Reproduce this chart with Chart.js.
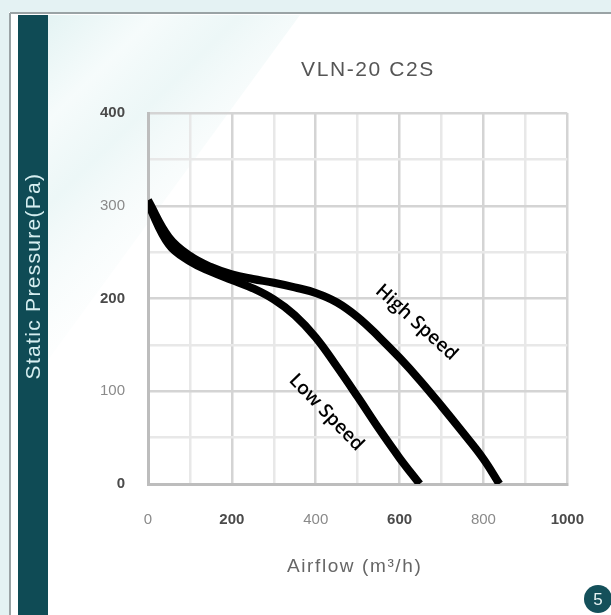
<!DOCTYPE html>
<html><head><meta charset="utf-8">
<script src="https://cdn.jsdelivr.net/npm/chart.js@4.4.0/dist/chart.umd.min.js"></script>
<style>html,body{margin:0;padding:0;background:#fff;overflow:hidden}</style>
</head><body>
<canvas id="c" width="611" height="615" style="width:611px;height:615px;display:block"></canvas>
<script>
// ---- data ----
const chartTitle = 'VLN-20 C2S';
const xAxisTitle = 'Airflow (m³/h)';
const yAxisTitle = 'Static Pressure(Pa)';
const seriesNames = ['High Speed', 'Low Speed'];
const highFlow = [0, 50, 100, 150, 200, 250, 300, 350, 400, 450, 500, 550, 600, 650, 700, 750, 800, 838];
const highPressure = [306, 266, 246, 234, 226, 221, 217, 212, 206, 196, 180, 159, 136, 111, 84, 56, 27, 0];
const lowFlow = [0, 50, 100, 150, 200, 250, 300, 350, 400, 450, 500, 550, 600, 648];
const lowPressure = [302, 258, 240, 229, 220, 211, 199, 182, 158, 127, 94, 60, 28, 0];
const xMajorTicks = [0, 200, 400, 600, 800, 1000];
const yMajorTicks = [0, 100, 200, 300, 400];
const boldXTicks = [200, 600, 1000];
const boldYTicks = [0, 200, 400];
const badgeText = '5';

const toPoints = (xs, ys) => xs.map((x, i) => ({x: x, y: ys[i]}));

const decor = {
  id: 'decor',
  beforeDraw(chart) {
    const c = chart.ctx;
    c.save();
    c.fillStyle = '#ffffff';
    c.fillRect(0, 0, 611, 615);
    const g = c.createLinearGradient(48, 15, 260, 230);
    g.addColorStop(0, 'rgba(225,242,242,0.9)');
    g.addColorStop(0.25, 'rgba(245,251,251,0.9)');
    g.addColorStop(0.45, 'rgba(232,245,245,0.8)');
    g.addColorStop(1, 'rgba(255,255,255,0)');
    c.fillStyle = g;
    c.beginPath(); c.moveTo(48, 15); c.lineTo(300, 15); c.lineTo(48, 360); c.closePath(); c.fill();
    c.fillStyle = '#e4f2f3';
    c.fillRect(0, 0, 611, 12);
    c.fillRect(0, 0, 9, 615);
    c.strokeStyle = '#9aa3a5'; c.lineWidth = 2;
    c.beginPath(); c.moveTo(10, 13); c.lineTo(611, 13); c.moveTo(10, 13); c.lineTo(10, 615); c.stroke();
    c.fillStyle = '#0f4b55';
    c.fillRect(18, 15, 30, 600);
    // y-title in bar
    c.translate(34, 276);
    c.rotate(-Math.PI / 2);
    c.fillStyle = '#d6eef0';
    c.font = '21px "Liberation Sans", Arial, sans-serif';
    c.letterSpacing = '1.3px';
    c.textAlign = 'center'; c.textBaseline = 'middle';
    c.fillText(yAxisTitle, 0, 0);
    c.restore();
    c.save();
    c.fillStyle = '#555';
    c.font = '21px "Liberation Sans", Arial, sans-serif';
    c.letterSpacing = '1.6px';
    c.textAlign = 'center'; c.textBaseline = 'middle';
    c.fillText(chartTitle, 368, 70);
    // x-axis title
    const ca = chart.chartArea;
    c.fillStyle = '#666';
    c.font = '19px "Liberation Sans", Arial, sans-serif';
    c.letterSpacing = '1.6px';
    c.fillText(xAxisTitle, (ca.left + ca.right) / 2 - 3, 567);
    // badge
    c.fillStyle = '#14505a';
    c.beginPath(); c.arc(598, 599, 14, 0, Math.PI * 2); c.fill();
    c.fillStyle = '#e8f4f4';
    c.font = '17px "Liberation Sans", Arial, sans-serif';
    c.letterSpacing = '0px';
    c.fillText(badgeText, 598, 600);
    c.restore();
  },
  afterDatasetsDraw(chart) {
    const c = chart.ctx, xs = chart.scales.x, ys = chart.scales.y;
    const labels = [
      {text: seriesNames[0], vx: 640, vy: 174, rot: 42},
      {text: seriesNames[1], vx: 425, vy: 77, rot: 46}
    ];
    c.save();
    c.fillStyle = '#000';
    c.font = '600 19px "Open Sans", "Noto Sans", sans-serif';
    c.textAlign = 'center'; c.textBaseline = 'middle';
    labels.forEach(l => {
      c.save();
      c.translate(xs.getPixelForValue(l.vx), ys.getPixelForValue(l.vy));
      c.rotate(l.rot * Math.PI / 180);
      c.fillText(l.text, 0, 0);
      c.restore();
    });
    c.restore();
  }
};

const tickFont = (bold) => bold
  ? {family: '"Liberation Sans", Arial, sans-serif', size: 15, weight: 'bold'}
  : {family: '"Liberation Sans", Arial, sans-serif', size: 15, weight: 'normal'};

new Chart(document.getElementById('c'), {
  type: 'line',
  data: {
    datasets: [
      {label: seriesNames[0], data: toPoints(highFlow, highPressure)},
      {label: seriesNames[1], data: toPoints(lowFlow, lowPressure)}
    ]
  },
  options: {
    responsive: false,
    animation: false,
    devicePixelRatio: 1,
    layout: {padding: {left: 0, top: 113, right: 43, bottom: 0}},
    elements: {
      line: {borderColor: '#000', borderWidth: 8, tension: 0.4, fill: false, borderCapStyle: 'butt', borderJoinStyle: 'round'},
      point: {radius: 0, hoverRadius: 0}
    },
    datasets: {line: {clip: 0}},
    plugins: {legend: {display: false}, title: {display: false}, tooltip: {enabled: false}},
    scales: {
      x: {
        type: 'linear', min: 0, max: 1000,
        afterFit: s => { s.height = 131; },
        border: {display: true, color: '#bdbdbd', width: 3},
        grid: {
          drawTicks: false,
          color: ctx => (ctx.tick && xMajorTicks.includes(ctx.tick.value)) ? '#d4d4d4' : '#e8e8e8',
          lineWidth: 2.5
        },
        ticks: {
          stepSize: 100, padding: 27, maxRotation: 0, autoSkip: false,
          callback: v => xMajorTicks.includes(v) ? String(v) : '',
          font: ctx => tickFont(ctx.tick && boldXTicks.includes(ctx.tick.value)),
          color: ctx => (ctx.tick && boldXTicks.includes(ctx.tick.value)) ? '#4a4a4a' : '#8a8a8a'
        }
      },
      y: {
        type: 'linear', min: 0, max: 400,
        afterFit: s => { s.width = 148; },
        border: {display: true, color: '#bdbdbd', width: 3},
        grid: {
          drawTicks: false,
          color: ctx => (ctx.tick && yMajorTicks.includes(ctx.tick.value)) ? '#d4d4d4' : '#e8e8e8',
          lineWidth: 2.5
        },
        ticks: {
          stepSize: 50, padding: 23, autoSkip: false,
          callback: v => yMajorTicks.includes(v) ? String(v) : '',
          font: ctx => tickFont(ctx.tick && boldYTicks.includes(ctx.tick.value)),
          color: ctx => (ctx.tick && boldYTicks.includes(ctx.tick.value)) ? '#4a4a4a' : '#8a8a8a'
        }
      }
    }
  },
  plugins: [decor]
});
</script>
</body></html>
